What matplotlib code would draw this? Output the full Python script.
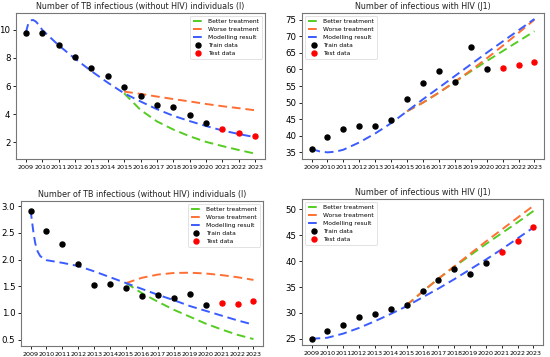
import matplotlib
matplotlib.use("Agg")
import matplotlib.pyplot as plt
import numpy as np

years = list(range(2009, 2024))
year_labels = [str(y) for y in years]

# ---- Panel 1: TB infectious (without HIV), top-left ----
p1_train = [9.79, 9.74, 8.94, 8.05, 7.29, 6.71, 5.93, 5.29, 4.64, 4.49, 3.91, 3.34]
p1_test = [2.96, 2.66, 2.45]
p1_model_x = [2009, 2009.15, 2009.3, 2009.45, 2009.6, 2009.8, 2010, 2010.5, 2011, 2012, 2013, 2014,
              2015, 2016, 2017, 2018, 2019, 2020, 2021, 2022, 2023]
p1_model_y = [9.8, 10.45, 10.68, 10.7, 10.6, 10.35, 10.0, 9.45, 8.9, 7.95, 7.06, 6.24,
              5.48, 4.9, 4.35, 3.88, 3.5, 3.15, 2.83, 2.58, 2.35]
p1_x_future = [2015, 2016, 2017, 2018, 2019, 2020, 2021, 2022, 2023]
p1_better = [5.48, 4.3, 3.48, 2.9, 2.42, 2.02, 1.72, 1.44, 1.18]
p1_worse = [5.6, 5.44, 5.25, 5.07, 4.9, 4.72, 4.56, 4.42, 4.27]

# ---- Panel 2: infectious with HIV (J1), top-right ----
p2_train = [36.1, 39.7, 42.1, 42.8, 42.9, 44.7, 51.0, 55.9, 59.5, 56.3, 66.9, 60.1]
p2_test = [60.3, 61.2, 62.2]
p2_model_x = [2009, 2009.5, 2010, 2010.5, 2011, 2012, 2013, 2014, 2015, 2016, 2017, 2018,
              2019, 2020, 2021, 2022, 2023]
p2_model_y = [36.0, 35.3, 35.0, 35.2, 35.8, 38.0, 40.7, 43.8, 47.4, 51.0, 54.5, 58.0,
              61.5, 65.0, 68.4, 71.8, 75.2]
p2_x_future = [2015, 2016, 2017, 2018, 2019, 2020, 2021, 2022, 2023]
p2_better = [47.4, 50.0, 53.0, 56.2, 59.4, 62.5, 65.5, 68.5, 71.5]
p2_worse = [47.4, 50.0, 53.0, 56.3, 59.7, 63.3, 67.1, 71.0, 75.0]

# ---- Panel 3: TB infectious (without HIV), bottom-left ----
p3_train = [2.915, 2.53, 2.30, 1.91, 1.52, 1.54, 1.47, 1.31, 1.33, 1.28, 1.35, 1.15]
p3_test = [1.19, 1.17, 1.22]
p3_model_x = [2009, 2009.1, 2009.2, 2009.3, 2009.45, 2009.6, 2009.8, 2010, 2011, 2012, 2013,
              2014, 2015, 2016, 2017, 2018, 2019, 2020, 2021, 2022, 2023]
p3_model_y = [2.93, 2.7, 2.47, 2.3, 2.15, 2.07, 2.02, 1.99, 1.94, 1.88, 1.78,
              1.67, 1.56, 1.45, 1.34, 1.24, 1.13, 1.04, 0.95, 0.86, 0.78]
p3_x_future = [2015, 2016, 2017, 2018, 2019, 2020, 2021, 2022, 2023]
p3_better = [1.56, 1.37, 1.21, 1.06, 0.93, 0.80, 0.69, 0.59, 0.51]
p3_worse = [1.56, 1.66, 1.72, 1.75, 1.755, 1.74, 1.71, 1.67, 1.62]

# ---- Panel 4: infectious with HIV (J1), bottom-right ----
p4_train = [25.0, 26.5, 27.6, 29.2, 29.8, 30.7, 31.6, 34.3, 36.4, 38.4, 37.6, 39.6]
p4_test = [41.7, 43.9, 46.6]
p4_model_x = [2009, 2010, 2011, 2012, 2013, 2014, 2015, 2016, 2017, 2018, 2019, 2020,
              2021, 2022, 2023]
p4_model_y = [25.0, 25.2, 26.0, 27.1, 28.4, 29.8, 31.3, 33.0, 34.7, 36.5, 38.4, 40.3,
              42.3, 44.4, 46.5]
p4_x_future = [2015, 2016, 2017, 2018, 2019, 2020, 2021, 2022, 2023]
p4_better = [31.5, 34.1, 36.6, 38.9, 41.1, 43.3, 45.4, 47.5, 49.7]
p4_worse = [31.5, 34.1, 36.6, 39.0, 41.4, 43.8, 46.1, 48.4, 50.7]

title_tb = "Number of TB infectious (without HIV) individuals (I)"
title_hiv = "Number of infectious with HIV (J1)"

C_GREEN = "#55cc22"
C_ORANGE = "#ff6f33"
C_BLUE = "#3a5cff"

W, H = 550, 357
fig = plt.figure(figsize=(W / 100, H / 100), dpi=100)


def box(l, r, t, b):
    return [l / W, 1 - b / H, (r - l) / W, (b - t) / H]


def panel(rect, title, train, test, mx, my, fx, better, worse, yticks, legend_loc):
    ax = fig.add_axes(rect)
    ax.plot(fx, better, ls=(0, (4.5, 2.5)), color=C_GREEN, lw=1.4, label="Better treatment")
    ax.plot(fx, worse, ls=(0, (4.5, 2.5)), color=C_ORANGE, lw=1.4, label="Worse treatment")
    ax.plot(mx, my, ls=(0, (4.5, 2.5)), color=C_BLUE, lw=1.4, label="Modelling result")
    ax.scatter(years[:len(train)], train, s=13, color="black", zorder=3, label="Train data")
    ax.scatter(years[len(train):], test, s=13, color="red", zorder=3, label="Test data")
    ax.set_title(title, fontsize=5.8, pad=3, color="#222222")
    ax.set_xticks(years)
    ax.set_xticklabels(year_labels, fontsize=4.55)
    ax.set_yticks(yticks)
    ax.tick_params(axis="y", labelsize=6.2, length=2.5, pad=1.5, width=0.6)
    ax.tick_params(axis="x", length=2.5, pad=1.5, width=0.6)
    ax.set_xlim(2008.4, 2023.6)
    for s in ax.spines.values():
        s.set_color("#777777")
        s.set_linewidth(0.8)
    leg = ax.legend(loc=legend_loc, fontsize=4.3, frameon=True, handlelength=2.0,
                    borderpad=0.5, labelspacing=0.45, handletextpad=0.6, markerscale=1.0)
    leg.get_frame().set_linewidth(0.5)
    return ax


a1 = panel(box(16, 265, 13, 159), title_tb, p1_train, p1_test, p1_model_x, p1_model_y,
           p1_x_future, p1_better, p1_worse, [2, 4, 6, 8, 10], "upper right")
a1.set_ylim(0.8, 11.2)

a2 = panel(box(302, 544, 13, 159), title_hiv, p2_train, p2_test, p2_model_x, p2_model_y,
           p2_x_future, p2_better, p2_worse, [35, 40, 45, 50, 55, 60, 65, 70, 75], "upper left")
a2.set_ylim(33.0, 77.0)

a3 = panel(box(21, 263, 201, 346), title_tb, p3_train, p3_test, p3_model_x, p3_model_y,
           p3_x_future, p3_better, p3_worse, [0.5, 1.0, 1.5, 2.0, 2.5, 3.0], "upper right")
a3.set_ylim(0.38, 3.1)

a4 = panel(box(302, 543, 199, 345), title_hiv, p4_train, p4_test, p4_model_x, p4_model_y,
           p4_x_future, p4_better, p4_worse, [25, 30, 35, 40, 45, 50], "upper left")
a4.set_ylim(23.8, 52.0)

fig.savefig("out.png", dpi=100)
